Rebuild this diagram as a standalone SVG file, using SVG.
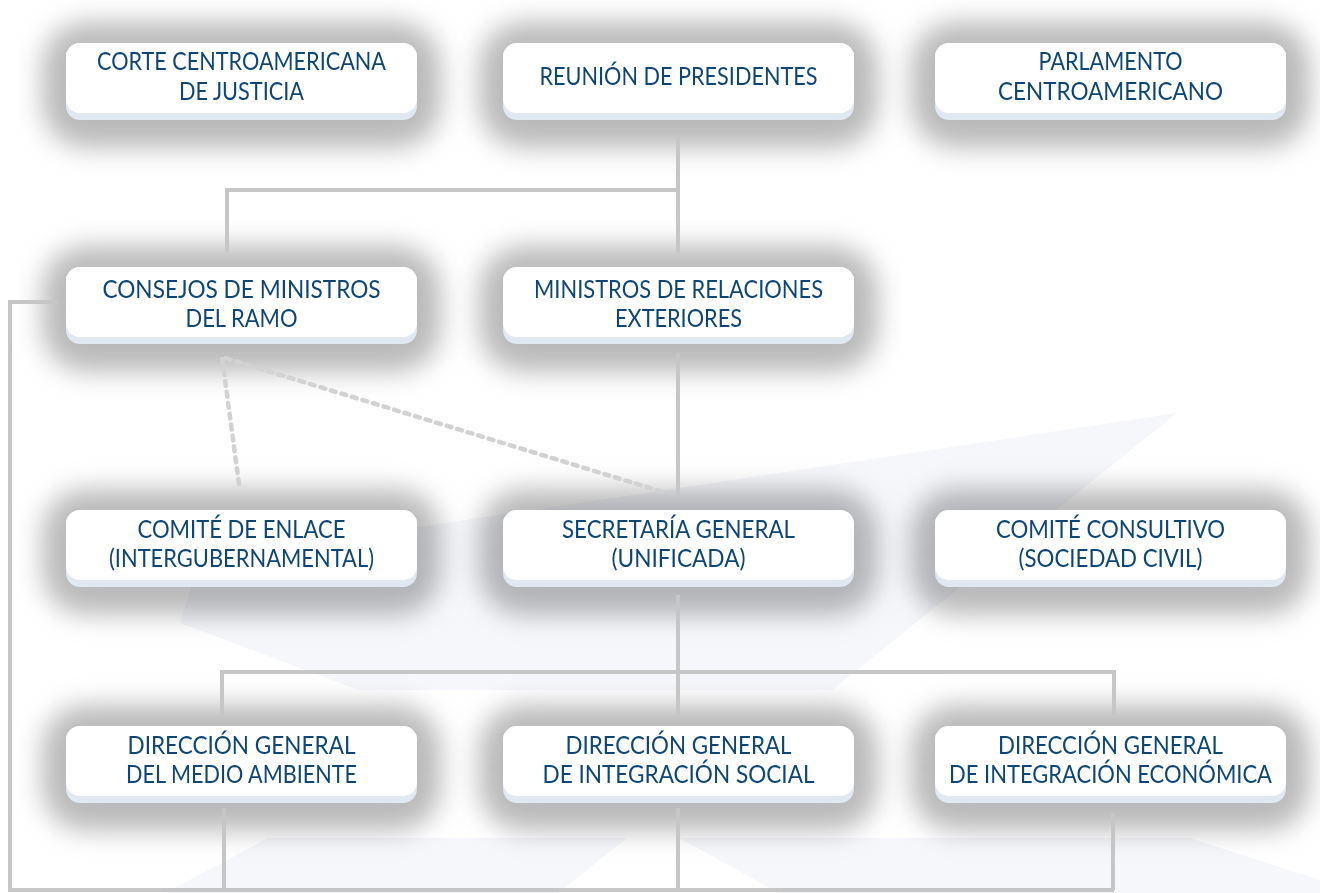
<svg xmlns="http://www.w3.org/2000/svg" width="1320" height="893" viewBox="0 0 1320 893">
<defs>
<filter id="blur" x="-30%" y="-60%" width="160%" height="220%"><feGaussianBlur stdDeviation="13"/></filter>
</defs>
<style>
.sh{fill:#bababa;filter:url(#blur)}
.lip{fill:#e1e8f1}
.body{fill:#ffffff}
.t{font-family:Lato,"Liberation Sans",sans-serif;font-size:25px;font-weight:400;fill:#0d4676;text-anchor:middle}
.c{fill:none;stroke:#c6c6c6;stroke-width:4}
.d{fill:none;stroke:#d2d2d2;stroke-width:4.5;stroke-dasharray:5 6;stroke-linecap:round}
.wm{fill:#f6f7fb;mix-blend-mode:multiply}
</style>
<rect width="1320" height="893" fill="#ffffff"/>
<g id="shadows">
<rect class="sh" x="42" y="22" width="399" height="126" rx="45"/>
<rect class="sh" x="479" y="22" width="399" height="126" rx="45"/>
<rect class="sh" x="911" y="22" width="399" height="126" rx="45"/>
<rect class="sh" x="42" y="246" width="399" height="126" rx="45"/>
<rect class="sh" x="479" y="246" width="399" height="126" rx="45"/>
<rect class="sh" x="42" y="489" width="399" height="126" rx="45"/>
<rect class="sh" x="479" y="489" width="399" height="126" rx="45"/>
<rect class="sh" x="911" y="489" width="399" height="126" rx="45"/>
<rect class="sh" x="42" y="705" width="399" height="126" rx="45"/>
<rect class="sh" x="479" y="705" width="399" height="126" rx="45"/>
<rect class="sh" x="911" y="705" width="399" height="126" rx="45"/>
</g>
<g id="watermark">
<polygon class="wm" points="1177,413 200,560 180,623 358,690 832,690"/>
<polygon class="wm" points="268,838 627,838 558,893 165,893"/>
<polygon class="wm" points="679,838 1190,838 1320,880 1320,893 779,893"/>
</g>
<g id="connectors">
<polyline class="c" points="678,137 678,253"/>
<polyline class="c" points="678,190 227,190 227,252"/>
<polyline class="c" points="678,353 678,497"/>
<polyline class="d" points="239,484 222,357 663,492"/>
<polyline class="c" points="58,302 10,302 10,890 1114,890"/>
<polyline class="c" points="678,595 678,716"/>
<polyline class="c" points="222,716 222,672 1114,672 1114,718"/>
<polyline class="c" points="224,808 224,890"/>
<polyline class="c" points="678,808 678,890"/>
<polyline class="c" points="1113,813 1113,890"/>
</g>
<g id="corte">
<rect class="lip" x="66" y="43" width="351" height="77" rx="14"/>
<rect class="body" x="66" y="43" width="351" height="70" rx="14"/>
<text class="t" x="241.5" y="70" textLength="289" lengthAdjust="spacingAndGlyphs">CORTE CENTROAMERICANA</text>
<text class="t" x="241.5" y="100" textLength="125" lengthAdjust="spacingAndGlyphs">DE JUSTICIA</text>
</g>
<g id="reunion">
<rect class="lip" x="503" y="43" width="351" height="77" rx="14"/>
<rect class="body" x="503" y="43" width="351" height="70" rx="14"/>
<text class="t" x="678.5" y="85" textLength="278" lengthAdjust="spacingAndGlyphs">REUNIÓN DE PRESIDENTES</text>
</g>
<g id="parlamento">
<rect class="lip" x="935" y="43" width="351" height="77" rx="14"/>
<rect class="body" x="935" y="43" width="351" height="70" rx="14"/>
<text class="t" x="1110.5" y="70" textLength="144" lengthAdjust="spacingAndGlyphs">PARLAMENTO</text>
<text class="t" x="1110.5" y="100" textLength="225" lengthAdjust="spacingAndGlyphs">CENTROAMERICANO</text>
</g>
<g id="consejos">
<rect class="lip" x="66" y="267" width="351" height="77" rx="14"/>
<rect class="body" x="66" y="267" width="351" height="70" rx="14"/>
<text class="t" x="241.5" y="298" textLength="278" lengthAdjust="spacingAndGlyphs">CONSEJOS DE MINISTROS</text>
<text class="t" x="241.5" y="327" textLength="112" lengthAdjust="spacingAndGlyphs">DEL RAMO</text>
</g>
<g id="ministros">
<rect class="lip" x="503" y="267" width="351" height="77" rx="14"/>
<rect class="body" x="503" y="267" width="351" height="70" rx="14"/>
<text class="t" x="678.5" y="298" textLength="289" lengthAdjust="spacingAndGlyphs">MINISTROS DE RELACIONES</text>
<text class="t" x="678.5" y="327" textLength="127" lengthAdjust="spacingAndGlyphs">EXTERIORES</text>
</g>
<g id="enlace">
<rect class="lip" x="66" y="510" width="351" height="77" rx="14"/>
<rect class="body" x="66" y="510" width="351" height="70" rx="14"/>
<text class="t" x="241.5" y="538" textLength="208" lengthAdjust="spacingAndGlyphs">COMITÉ DE ENLACE</text>
<text class="t" x="241.5" y="567" textLength="265" lengthAdjust="spacingAndGlyphs">(INTERGUBERNAMENTAL)</text>
</g>
<g id="secretaria">
<rect class="lip" x="503" y="510" width="351" height="77" rx="14"/>
<rect class="body" x="503" y="510" width="351" height="70" rx="14"/>
<text class="t" x="678.5" y="538" textLength="233" lengthAdjust="spacingAndGlyphs">SECRETARÍA GENERAL</text>
<text class="t" x="678.5" y="567" textLength="134" lengthAdjust="spacingAndGlyphs">(UNIFICADA)</text>
</g>
<g id="consultivo">
<rect class="lip" x="935" y="510" width="351" height="77" rx="14"/>
<rect class="body" x="935" y="510" width="351" height="70" rx="14"/>
<text class="t" x="1110.5" y="538" textLength="229" lengthAdjust="spacingAndGlyphs">COMITÉ CONSULTIVO</text>
<text class="t" x="1110.5" y="567" textLength="184" lengthAdjust="spacingAndGlyphs">(SOCIEDAD CIVIL)</text>
</g>
<g id="ambiente">
<rect class="lip" x="66" y="726" width="351" height="77" rx="14"/>
<rect class="body" x="66" y="726" width="351" height="70" rx="14"/>
<text class="t" x="241.5" y="754" textLength="228" lengthAdjust="spacingAndGlyphs">DIRECCIÓN GENERAL</text>
<text class="t" x="241.5" y="783" textLength="231" lengthAdjust="spacingAndGlyphs">DEL MEDIO AMBIENTE</text>
</g>
<g id="social">
<rect class="lip" x="503" y="726" width="351" height="77" rx="14"/>
<rect class="body" x="503" y="726" width="351" height="70" rx="14"/>
<text class="t" x="678.5" y="754" textLength="226" lengthAdjust="spacingAndGlyphs">DIRECCIÓN GENERAL</text>
<text class="t" x="678.5" y="783" textLength="272" lengthAdjust="spacingAndGlyphs">DE INTEGRACIÓN SOCIAL</text>
</g>
<g id="economica">
<rect class="lip" x="935" y="726" width="351" height="77" rx="14"/>
<rect class="body" x="935" y="726" width="351" height="70" rx="14"/>
<text class="t" x="1110.5" y="754" textLength="225" lengthAdjust="spacingAndGlyphs">DIRECCIÓN GENERAL</text>
<text class="t" x="1110.5" y="783" textLength="323" lengthAdjust="spacingAndGlyphs">DE INTEGRACIÓN ECONÓMICA</text>
</g>
</svg>
